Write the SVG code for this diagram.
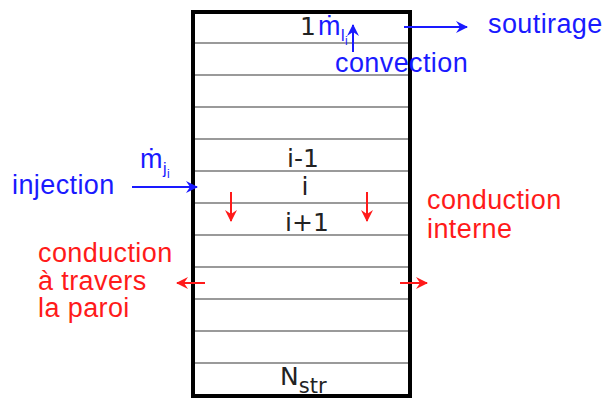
<svg xmlns="http://www.w3.org/2000/svg" width="609" height="398" viewBox="0 0 609 398">
<defs>
<style>
.lay{stroke:#9a9a9a;stroke-width:2}
.blk{font-family:"DejaVu Sans",sans-serif;fill:#222;font-size:25px}
.blu{font-family:"Liberation Sans",Arial,sans-serif;fill:#1a1aff;font-size:27px;letter-spacing:0.4px}
.red{font-family:"Liberation Sans",Arial,sans-serif;fill:#ff1a1a;font-size:27px;letter-spacing:0.4px}
.ab{stroke:#1a1aff;stroke-width:2;fill:none}
.ar{stroke:#ff1a1a;stroke-width:2;fill:none}
</style>
<marker id="mb" markerWidth="12" markerHeight="12" refX="11" refY="6" orient="auto" markerUnits="userSpaceOnUse"><path d="M0,0 L12,6 L0,12 L4,6 Z" fill="#1a1aff"/></marker>
<marker id="mr" markerWidth="12" markerHeight="12" refX="11" refY="6" orient="auto" markerUnits="userSpaceOnUse"><path d="M0,0 L12,6 L0,12 L4,6 Z" fill="#ff1a1a"/></marker>
</defs>
<g id="column">
<line class="lay" x1="195" y1="43" x2="409" y2="43"/>
<line class="lay" x1="195" y1="75" x2="409" y2="75"/>
<line class="lay" x1="195" y1="107" x2="409" y2="107"/>
<line class="lay" x1="195" y1="139" x2="409" y2="139"/>
<line class="lay" x1="195" y1="171" x2="409" y2="171"/>
<line class="lay" x1="195" y1="203" x2="409" y2="203"/>
<line class="lay" x1="195" y1="235" x2="409" y2="235"/>
<line class="lay" x1="195" y1="267" x2="409" y2="267"/>
<line class="lay" x1="195" y1="299" x2="409" y2="299"/>
<line class="lay" x1="195" y1="331" x2="409" y2="331"/>
<line class="lay" x1="195" y1="363" x2="409" y2="363"/>
<rect x="193" y="12" width="217" height="384" fill="none" stroke="#000" stroke-width="4"/>
<text class="blk" x="300" y="35">1</text>
<text class="blk" x="303" y="167" text-anchor="middle">i-1</text>
<text class="blk" x="305" y="195" text-anchor="middle">i</text>
<text class="blk" x="307" y="231" text-anchor="middle">i+1</text>
<text class="blk" x="280" y="385" font-size="23">N<tspan font-size="21" dy="8">str</tspan></text>
</g>
<g id="connectors">
<line class="ab" x1="132" y1="187" x2="197" y2="187" marker-end="url(#mb)"/>
<line class="ab" x1="404" y1="27" x2="467" y2="27" marker-end="url(#mb)"/>
<line class="ab" x1="353" y1="52" x2="353" y2="25" marker-end="url(#mb)"/>
<line class="ar" x1="231" y1="192" x2="231" y2="221" marker-end="url(#mr)"/>
<line class="ar" x1="367" y1="192" x2="367" y2="221" marker-end="url(#mr)"/>
<line class="ar" x1="205" y1="283" x2="177" y2="283" marker-end="url(#mr)"/>
<line class="ar" x1="400" y1="283" x2="427" y2="283" marker-end="url(#mr)"/>
</g>
<g id="soutirage">
<text class="blu" x="318" y="35" font-size="25">ṁ<tspan font-size="16" dy="6">l</tspan><tspan font-size="12" dy="4">i</tspan></text>
<text class="blu" x="488" y="33">soutirage</text>
</g>
<g id="convection"><text class="blu" x="335" y="72">convection</text></g>
<g id="injection">
<text class="blu" x="12" y="194">injection</text>
<text class="blu" x="140" y="168" font-size="25">ṁ<tspan font-size="16" dy="6">j</tspan><tspan font-size="12" dy="4">i</tspan></text>
</g>
<g id="conduction-interne">
<text class="red" x="427" y="209">conduction</text>
<text class="red" x="427" y="238">interne</text>
</g>
<g id="conduction-paroi">
<text class="red" x="38" y="262">conduction</text>
<text class="red" x="38" y="290">à travers</text>
<text class="red" x="38" y="317">la paroi</text>
</g>
</svg>
